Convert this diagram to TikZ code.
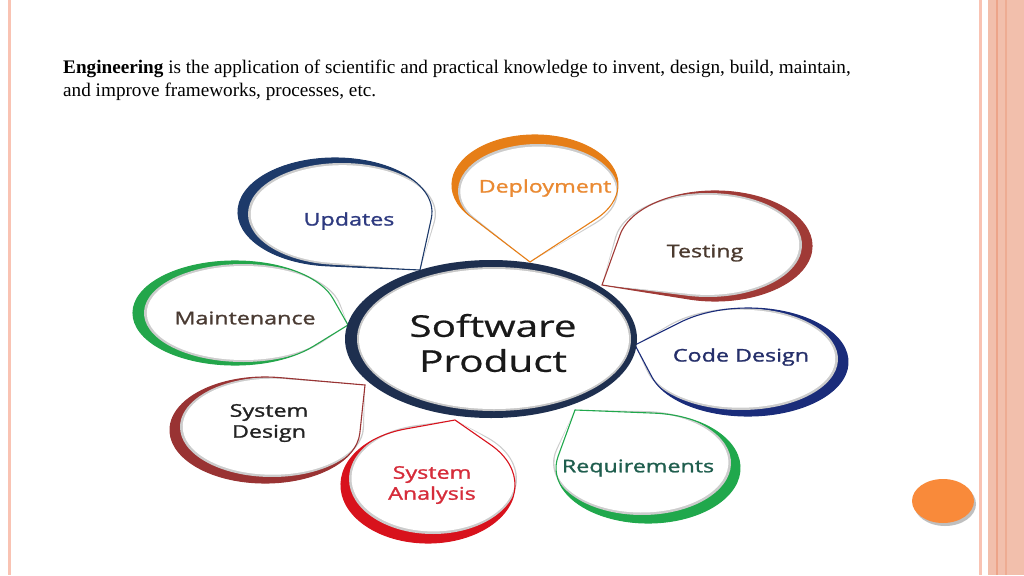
\documentclass[tikz,border=0pt]{standalone}
\usepackage{fontspec}
\setmainfont{Liberation Serif}
\newfontfamily\diagfont[FakeBold=1.2]{Open Sans}
\newfontfamily\bigfont[FakeBold=0.6]{Open Sans}
\definecolor{bandline}{HTML}{F9C3B3}
\definecolor{band}{HTML}{F2BFAC}
\definecolor{banddark}{HTML}{EDA489}
\definecolor{dot}{HTML}{F98A3A}
\definecolor{cnavy}{HTML}{1E2F4F}
\definecolor{pUpd}{HTML}{1D3A6A}\definecolor{tUpd}{HTML}{2E3A80}
\definecolor{pDep}{HTML}{E67E17}\definecolor{tDep}{HTML}{EA8A33}
\definecolor{pTes}{HTML}{A03A36}\definecolor{tTes}{HTML}{4B3A2F}
\definecolor{pCod}{HTML}{1A2C7A}\definecolor{tCod}{HTML}{252F6A}
\definecolor{pReq}{HTML}{20A84C}\definecolor{tReq}{HTML}{1F5E4E}
\definecolor{pAna}{HTML}{D8121C}\definecolor{tAna}{HTML}{D62C3A}
\definecolor{pSD}{HTML}{993333}\definecolor{tSD}{HTML}{222222}
\definecolor{pMai}{HTML}{23A64B}\definecolor{tMai}{HTML}{4A3B33}
% petal: cx cy rx ry tx ty colour sx sy
\newcommand\petalpath[6]{%
  \pgfmathsetmacro\ppx{(#5-#1)/#3}%
  \pgfmathsetmacro\ppy{(#6-#2)/#4}%
  \pgfmathsetmacro\pD{sqrt(\ppx*\ppx+\ppy*\ppy)}%
  \pgfmathsetmacro\pph{atan2(\ppy,\ppx)}%
  \pgfmathsetmacro\pde{acos(1/\pD)}%
  \pgfmathsetmacro\pta{\pph+\pde}%
  \pgfmathsetmacro\ptb{\pph-\pde+360}%
  \xdef\thepetal{(#5,#6) -- ({#1+#3*cos(\pta)},{#2+#4*sin(\pta)})
     arc[start angle=\pta, end angle=\ptb, x radius=#3, y radius=#4] -- cycle}%
}
\newcommand\drawpetal[9]{%
  \petalpath{#1}{#2}{#3}{#4}{#5}{#6}%
  \let\outerpetal\thepetal
  \fill[#7] \outerpetal;
  \pgfmathsetmacro\icx{#1+#8}\pgfmathsetmacro\icy{#2+#9}%
  \pgfmathsetmacro\irx{#3-3}\pgfmathsetmacro\iry{#4-3}%
  \petalpath{\icx}{\icy}{\irx}{\iry}{#5}{#6}%
  \fill[black!20] \thepetal;
  \pgfmathsetmacro\irx{#3-5}\pgfmathsetmacro\iry{#4-5}%
  \pgfmathsetmacro\icx{#1+#8*1.1}\pgfmathsetmacro\icy{#2+#9*1.1}%
  \petalpath{\icx}{\icy}{\irx}{\iry}{#5}{#6}%
  \fill[white] \thepetal;
  \draw[#7, line width=1.1pt, line join=miter] \outerpetal;
}
\tikzset{
  lbl/.style={font=\diagfont\fontsize{17.5}{21}\selectfont, xscale=1.33, align=center, inner sep=0pt},
  big/.style={font=\bigfont\fontsize{30}{35}\selectfont, xscale=1.35, align=center, inner sep=0pt, text=black!90},
  head/.style={font=\fontsize{19.2}{22}\selectfont, anchor=base west, inner sep=0pt}
}
\begin{document}
\begin{tikzpicture}[x=1pt,y=-1pt]
\useasboundingbox (0,0) rectangle (1024,575);
\fill[white] (0,0) rectangle (1024,575);
% slide borders
\fill[bandline] (8,0) rectangle (11,575);
\fill[bandline] (979,0) rectangle (982,575);
\fill[band] (988,0) rectangle (1024,575);
\fill[banddark] (996,0) rectangle (998,575);
\fill[banddark!70!band] (1005,0) rectangle (1007,575);
% heading
\node[head] (eng1) at (63,74) {\textbf{Engineering} is the application of scientific and practical knowledge to invent, design, build, maintain,};
\node[head] (eng2) at (63,97) {and improve frameworks, processes, etc.};
% petals
\drawpetal{335}{212}{97}{54}{420}{270}{pUpd}{7}{2}
\drawpetal{535}{185}{83}{50}{530}{262}{pDep}{3}{6}
\drawpetal{715}{246}{97}{55}{602}{285}{pTes}{-7}{-1}
\drawpetal{748}{362}{100}{54}{635}{345}{pCod}{-7}{-3}
\drawpetal{648}{468}{92}{55}{575}{410}{pReq}{-6}{-5}
\drawpetal{428}{485}{87}{58}{455}{420}{pAna}{5}{-6}
\drawpetal{265}{430}{95}{53}{365}{385}{pSD}{7}{-3}
\drawpetal{235}{313}{102}{52}{348}{325}{pMai}{8}{0}
% centre
\fill[cnavy] (491,339) ellipse[x radius=146, y radius=79];
\fill[black!22] (494,339) ellipse[x radius=137, y radius=72];
\fill[white] (494,339) ellipse[x radius=135, y radius=70];
% labels
\node[lbl, text=tUpd] (upd) at (349,221) {Updates};
\node[lbl, text=tDep] (dep) at (545,188) {Deployment};
\node[lbl, text=tTes] (tes) at (705,253) {Testing};
\node[lbl, text=tCod] (cod) at (741,357) {Code Design};
\node[lbl, text=tReq] (req) at (638,468) {Requirements};
\node[lbl, text=tAna] (ana) at (432,485) {System\\Analysis};
\node[lbl, text=tSD] (sd) at (269,423) {System\\Design};
\node[lbl, text=tMai] (mai) at (245,318) {Maintenance};
\node[big] (sp) at (493,343) {Software\\Product};
% orange dot
\fill[black!25] (945,504) ellipse[x radius=31, y radius=22];
\fill[dot] (943,501) ellipse[x radius=31, y radius=22];
\end{tikzpicture}
\end{document}
